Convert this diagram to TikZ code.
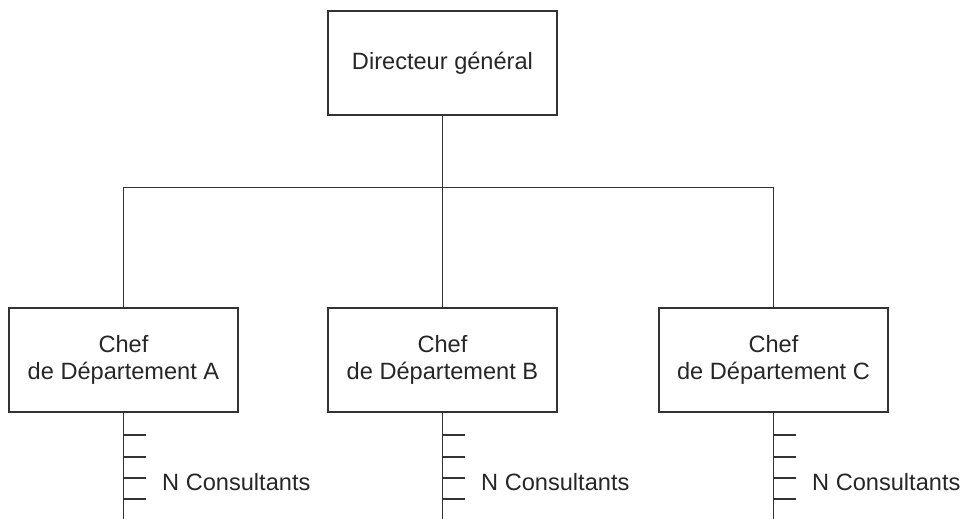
\documentclass[tikz,border=0pt]{standalone}
\usepackage{fontspec}
\setmainfont{Liberation Sans}
\begin{document}
\begin{tikzpicture}[x=1pt,y=-1pt,
  box/.style={draw=black!80,line width=1.2pt,minimum width=229pt,minimum height=104pt,inner sep=0pt,align=center,font=\fontsize{23.6}{27}\selectfont,text=black!85},
  conn/.style={draw=black!80,line width=1.2pt},
  lbl/.style={anchor=west,inner sep=0pt,font=\fontsize{23.6}{27}\selectfont,text=black!85}]
\useasboundingbox (0,0) rectangle (970,519);
\node[box] (dg) at (442.5,63) {Directeur général};
\node[box] (a) at (123.5,360) {Chef\\de Département A};
\node[box] (b) at (442.5,360) {Chef\\de Département B};
\node[box] (c) at (773.5,360) {Chef\\de Département C};
\coordinate (j) at (442.5,187.5);
\draw[conn] (dg.south) -- (j);
\draw[conn] (a.north) |- (j) -| (c.north);
\draw[conn] (j) -- (b.north);
\foreach \n/\x in {a/123.5,b/442.5,c/773.5}{
  \coordinate (\n e) at (\x,519);
  \draw[conn] (\n.south) -- (\n e);
  \foreach \y [count=\i] in {435,457,478,499}{
    \coordinate (\n t\i) at (\x+22,\y);
    \draw[conn] (\x,\y) -- (\n t\i);
  }
  \node[lbl] (\n n) at (\x+38.5,482) {N Consultants};
}
\end{tikzpicture}
\end{document}
